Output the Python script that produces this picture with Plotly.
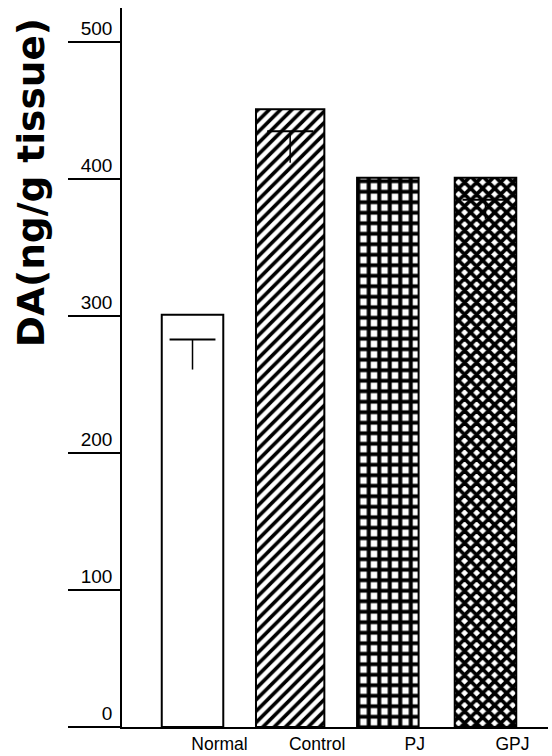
import plotly.graph_objects as go

# ---- data ----
categories = ["Normal", "Control", "PJ", "GPJ"]
da_values = [301, 451, 401, 401]
err_top = [283, 435, None, 385]
err_bottom = [261, 412, None, 371]
y_ticks = [0, 100, 200, 300, 400, 500]

# ---- style ----
bar_widths = [0.63, 0.70, 0.63, 0.63]
shapes = ["", "/", "+", "x"]
sizes = [8, 8, 10.5, 8.5]
solid = [0.3, 0.45, 0.62, 0.68]

xpos = list(range(len(categories)))

fig = go.Figure()
fig.add_trace(go.Bar(
    x=xpos, y=da_values, width=bar_widths,
    marker=dict(
        color="white",
        line=dict(color="black", width=2),
        pattern=dict(shape=shapes, fgcolor="black", bgcolor="white",
                     fgopacity=1, size=sizes, solidity=solid,
                     fillmode="overlay"),
    ),
    showlegend=False, hoverinfo="skip",
))

ex, ey, eminus = [], [], []
for i, (t, b) in enumerate(zip(err_top, err_bottom)):
    if t is None:
        continue
    ex.append(i)
    ey.append(t)
    eminus.append(t - b)

fig.add_trace(go.Scatter(
    x=ex, y=ey, mode="markers",
    marker=dict(size=0.1, color="black"),
    error_x=dict(type="data", array=[0.235] * len(ex), width=0,
                 thickness=2, color="black"),
    error_y=dict(type="data", symmetric=False, array=[0] * len(ex),
                 arrayminus=eminus, width=0, thickness=1.5, color="black"),
    showlegend=False, hoverinfo="skip",
))

fig.update_layout(
    width=552, height=756,
    margin=dict(l=122, r=4, t=8, b=29, autoexpand=False),
    plot_bgcolor="white", paper_bgcolor="white",
    font=dict(family="Liberation Sans", color="black"),
    bargap=0.3,
)
fig.update_xaxes(
    range=[-0.722, 3.64],
    tickvals=xpos, ticktext=categories,
    showline=True, linecolor="black", linewidth=1.5,
    showgrid=False, zeroline=False, ticks="",
    ticklabelshift=27, ticklabelstandoff=0,
    tickfont=dict(size=17.5, family="Liberation Sans"),
    automargin=False,
)
fig.update_yaxes(
    range=[0, 525],
    tickvals=y_ticks,
    showline=True, linecolor="black", linewidth=1.5,
    showgrid=False, zeroline=False,
    ticks="outside", ticklen=52, tickwidth=1.5, tickcolor="black",
    ticklabelposition="outside top", ticklabelstandoff=4,
    tickfont=dict(size=19, family="Liberation Sans"),
    automargin=False,
)
fig.add_annotation(
    text="DA(ng/g tissue)", textangle=-90,
    xref="paper", yref="paper", x=-0.215, y=0.757,
    xanchor="center", yanchor="middle", showarrow=False,
    font=dict(family="DejaVu Sans", size=37.5, color="black", weight="bold"),
)

fig.write_html("out.html")
